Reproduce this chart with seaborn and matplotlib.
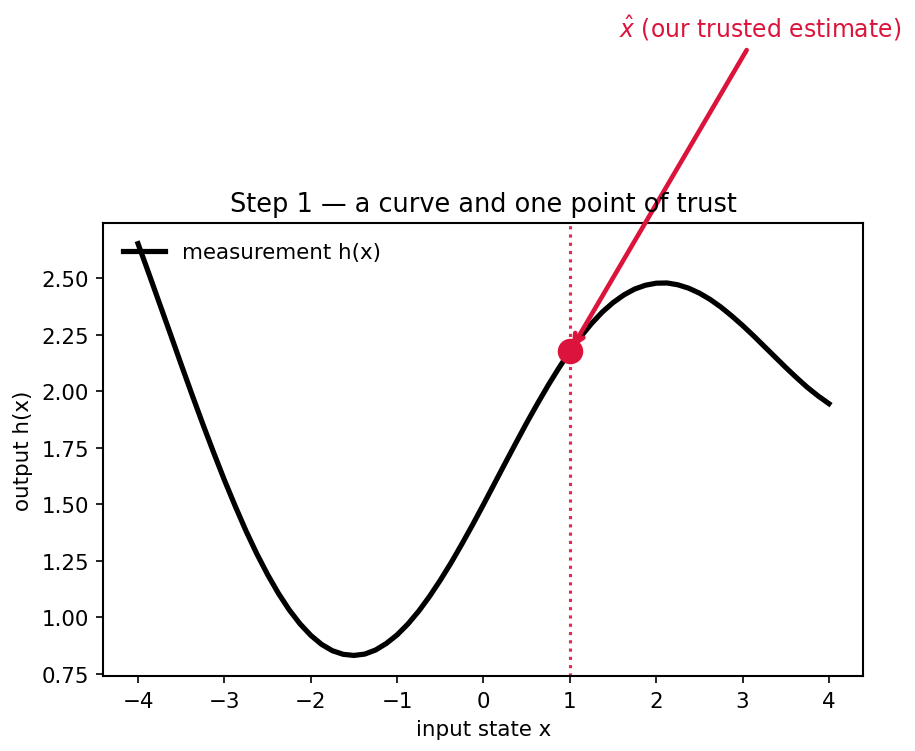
import matplotlib
matplotlib.use("Agg")
import matplotlib.pyplot as plt
import seaborn as sns

# curve h(x) at steps of 0.125
x_vals = [-4.0, -3.875, -3.75, -3.625, -3.5, -3.375, -3.25, -3.125,
          -3.0, -2.875, -2.75, -2.625, -2.5, -2.375, -2.25, -2.125,
          -2.0, -1.875, -1.75, -1.625, -1.5, -1.375, -1.25, -1.125,
          -1.0, -0.875, -0.75, -0.625, -0.5, -0.375, -0.25, -0.125,
          0.0, 0.125, 0.25, 0.375, 0.5, 0.625, 0.75, 0.875,
          1.0, 1.125, 1.25, 1.375, 1.5, 1.625, 1.75, 1.875,
          2.0, 2.125, 2.25, 2.375, 2.5, 2.625, 2.75, 2.875,
          3.0, 3.125, 3.25, 3.375, 3.5, 3.625, 3.75, 3.875, 4.0]
h_vals = [2.654, 2.522, 2.388, 2.254, 2.119, 1.986, 1.856, 1.730,
          1.608, 1.493, 1.383, 1.282, 1.190, 1.107, 1.034, 0.972,
          0.921, 0.881, 0.853, 0.837, 0.832, 0.838, 0.856, 0.885,
          0.923, 0.971, 1.028, 1.093, 1.165, 1.242, 1.325, 1.411,
          1.500, 1.591, 1.682, 1.772, 1.861, 1.946, 2.028, 2.105,
          2.177, 2.242, 2.300, 2.351, 2.393, 2.427, 2.453, 2.470,
          2.479, 2.480, 2.472, 2.457, 2.435, 2.407, 2.373, 2.334,
          2.292, 2.247, 2.200, 2.153, 2.106, 2.061, 2.018, 1.980, 1.946]

# trusted estimate
x_hat = 1.0
h_hat = 2.177

plt.rcParams["font.size"] = 10.25
plt.rcParams["axes.linewidth"] = 1.0

fig = plt.figure(figsize=(6.1, 5.013), dpi=150)
ax = fig.add_axes([0.1131, 0.0997, 0.8306, 0.6024])

sns.lineplot(x=x_vals, y=h_vals, color="black", lw=2.5, label="measurement h(x)", ax=ax)
ax.axvline(x_hat, color="crimson", ls=":", lw=1.5, alpha=0.9)
sns.scatterplot(x=[x_hat], y=[h_hat], s=150, color="crimson", linewidth=0, zorder=5, ax=ax)

ax.annotate(r"$\hat{x}$ (our trusted estimate)", xy=(x_hat, h_hat), xytext=(3.2, 3.61),
            ha="center", va="center", color="crimson", fontsize=11.3,
            arrowprops=dict(arrowstyle="->", color="crimson", lw=2.2),
            annotation_clip=False)

ax.set_title("Step 1 — a curve and one point of trust", fontsize=12.3)
ax.set_xlabel("input state x")
ax.set_ylabel("output h(x)")
ax.legend(loc="upper left", frameon=False)

fig.savefig("out.png", dpi=150)
